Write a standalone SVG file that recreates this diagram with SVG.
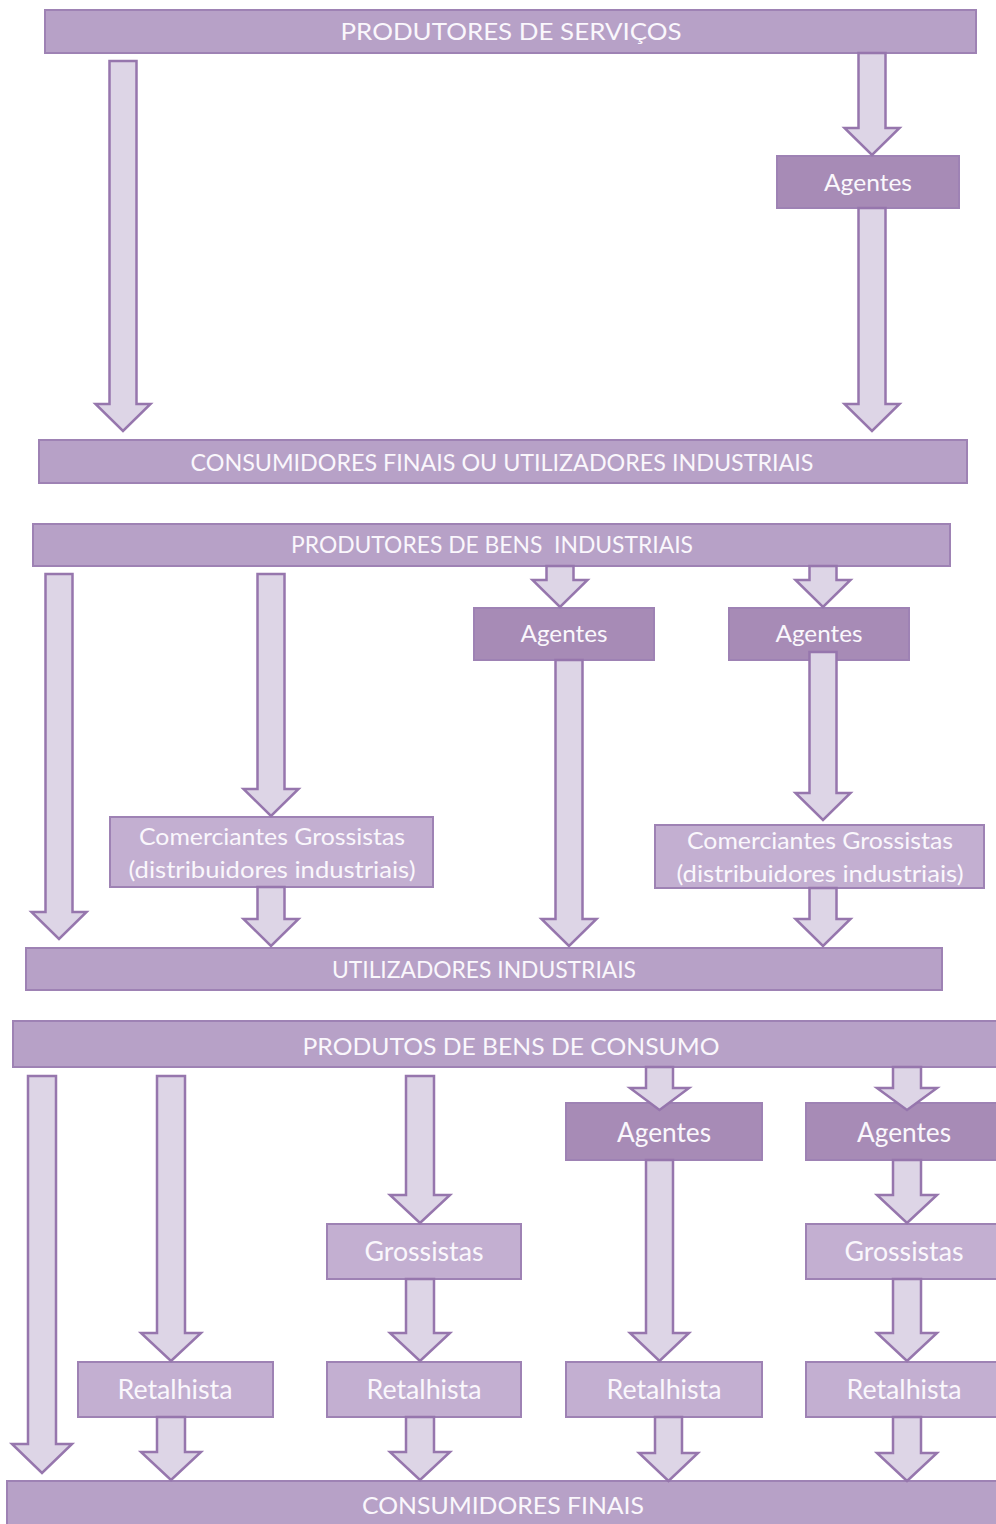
<svg xmlns="http://www.w3.org/2000/svg" width="996" height="1524" viewBox="0 0 996 1524">
  <style>
    .bar { fill: #b7a1c7; stroke: #9e82b4; stroke-width: 2; }
    .agent { fill: #a78bb6; stroke: #9e82b4; stroke-width: 2; }
    .mid { fill: #c3afd1; stroke: #9e82b4; stroke-width: 2; }
    .arrow { fill: #ddd5e6; stroke: #9676ad; stroke-width: 2.5; stroke-linejoin: miter; }
    text { font-family: Lato, "Open Sans", "Liberation Sans", sans-serif; fill: #faf7fc; text-anchor: middle; }
    .big { font-size: 24px; }
    .lbl { font-size: 24px; }
    .lbl3 { font-size: 26px; }
  </style>

  <!-- section 1: service producers -->
  <g id="prod-servicos">
    <rect class="bar" x="45" y="10" width="931" height="43"/>
    <text class="big" x="511" y="40" textLength="341" lengthAdjust="spacingAndGlyphs">PRODUTORES DE SERVIÇOS</text>
  </g>
  <g id="agentes-1">
    <rect class="agent" x="777" y="156" width="182" height="52"/>
    <text class="lbl" x="868" y="191" textLength="88" lengthAdjust="spacingAndGlyphs">Agentes</text>
  </g>
  <g id="consumidores-utilizadores">
    <rect class="bar" x="39" y="440" width="928" height="43"/>
    <text class="big" x="502" y="471" textLength="623" lengthAdjust="spacingAndGlyphs">CONSUMIDORES FINAIS OU UTILIZADORES INDUSTRIAIS</text>
  </g>

  <!-- section 2: industrial goods -->
  <g id="prod-bens-industriais">
    <rect class="bar" x="33" y="524" width="917" height="42"/>
    <text class="big" x="492" y="553" textLength="402" lengthAdjust="spacingAndGlyphs" xml:space="preserve">PRODUTORES DE BENS  INDUSTRIAIS</text>
  </g>
  <g id="agentes-2a">
    <rect class="agent" x="474" y="608" width="180" height="52"/>
    <text class="lbl" x="564" y="642" textLength="87" lengthAdjust="spacingAndGlyphs">Agentes</text>
  </g>
  <g id="agentes-2b">
    <rect class="agent" x="729" y="608" width="180" height="52"/>
    <text class="lbl" x="819" y="642" textLength="87" lengthAdjust="spacingAndGlyphs">Agentes</text>
  </g>
  <g id="comerciantes-1">
    <rect class="mid" x="110" y="817" width="323" height="70"/>
    <text class="lbl" x="272" y="845" textLength="266" lengthAdjust="spacingAndGlyphs">Comerciantes Grossistas</text>
    <text class="lbl" x="272" y="878" textLength="287" lengthAdjust="spacingAndGlyphs">(distribuidores industriais)</text>
  </g>
  <g id="comerciantes-2">
    <rect class="mid" x="655" y="825" width="329" height="63"/>
    <text class="lbl" x="820" y="849" textLength="266" lengthAdjust="spacingAndGlyphs">Comerciantes Grossistas</text>
    <text class="lbl" x="820" y="882" textLength="287" lengthAdjust="spacingAndGlyphs">(distribuidores industriais)</text>
  </g>
  <g id="utilizadores-industriais">
    <rect class="bar" x="26" y="948" width="916" height="42"/>
    <text class="big" x="484" y="978" textLength="304" lengthAdjust="spacingAndGlyphs">UTILIZADORES INDUSTRIAIS</text>
  </g>

  <!-- section 3: consumer goods -->
  <g id="prod-bens-consumo">
    <rect class="bar" x="13" y="1021" width="984" height="46"/>
    <text class="big" x="511" y="1055" textLength="417" lengthAdjust="spacingAndGlyphs">PRODUTOS DE BENS DE CONSUMO</text>
  </g>
  <g id="agentes-3a">
    <rect class="agent" x="566" y="1103" width="196" height="57"/>
    <text class="lbl3" x="664" y="1142" textLength="94" lengthAdjust="spacingAndGlyphs">Agentes</text>
  </g>
  <g id="agentes-3b">
    <rect class="agent" x="806" y="1103" width="192" height="57"/>
    <text class="lbl3" x="904" y="1142" textLength="94" lengthAdjust="spacingAndGlyphs">Agentes</text>
  </g>
  <g id="grossistas-c">
    <rect class="mid" x="327" y="1224" width="194" height="55"/>
    <text class="lbl3" x="424" y="1261" textLength="119" lengthAdjust="spacingAndGlyphs">Grossistas</text>
  </g>
  <g id="grossistas-e">
    <rect class="mid" x="806" y="1224" width="192" height="55"/>
    <text class="lbl3" x="904" y="1261" textLength="119" lengthAdjust="spacingAndGlyphs">Grossistas</text>
  </g>
  <g id="retalhista-b">
    <rect class="mid" x="78" y="1362" width="195" height="55"/>
    <text class="lbl3" x="175" y="1399" textLength="115" lengthAdjust="spacingAndGlyphs">Retalhista</text>
  </g>
  <g id="retalhista-c">
    <rect class="mid" x="327" y="1362" width="194" height="55"/>
    <text class="lbl3" x="424" y="1399" textLength="115" lengthAdjust="spacingAndGlyphs">Retalhista</text>
  </g>
  <g id="retalhista-d">
    <rect class="mid" x="566" y="1362" width="196" height="55"/>
    <text class="lbl3" x="664" y="1399" textLength="115" lengthAdjust="spacingAndGlyphs">Retalhista</text>
  </g>
  <g id="retalhista-e">
    <rect class="mid" x="806" y="1362" width="192" height="55"/>
    <text class="lbl3" x="904" y="1399" textLength="115" lengthAdjust="spacingAndGlyphs">Retalhista</text>
  </g>
  <g id="consumidores-finais">
    <rect class="bar" x="7" y="1481" width="991" height="45"/>
    <text class="big" x="503" y="1514" textLength="282" lengthAdjust="spacingAndGlyphs">CONSUMIDORES FINAIS</text>
  </g>

  <!-- block arrows: shaft 27 wide, head 55 wide, head 27 long (section 3 slightly larger) -->
  <g id="connectors">
    <!-- section 1 -->
    <path class="arrow" d="M109.5 61 H136.5 V404 H150.5 L123 431 L95.5 404 H109.5 Z"/>
    <path class="arrow" d="M858.5 53 H885.5 V128 H899.5 L872 155 L844.5 128 H858.5 Z"/>
    <path class="arrow" d="M858.5 208 H885.5 V404 H899.5 L872 431 L844.5 404 H858.5 Z"/>
    <!-- section 2 -->
    <path class="arrow" d="M45.5 574 H72.5 V912 H86.5 L59 939 L31.5 912 H45.5 Z"/>
    <path class="arrow" d="M257.5 574 H284.5 V789 H298.5 L271 816 L243.5 789 H257.5 Z"/>
    <path class="arrow" d="M257.5 887 H284.5 V919 H298.5 L271 946 L243.5 919 H257.5 Z"/>
    <path class="arrow" d="M546.5 566 H573.5 V580 H587.5 L560 607 L532.5 580 H546.5 Z"/>
    <path class="arrow" d="M555.5 660 H582.5 V919 H596.5 L569 946 L541.5 919 H555.5 Z"/>
    <path class="arrow" d="M809.5 566 H836.5 V580 H850.5 L823 607 L795.5 580 H809.5 Z"/>
    <path class="arrow" d="M809.5 652 H836.5 V793 H850.5 L823 820 L795.5 793 H809.5 Z"/>
    <path class="arrow" d="M809.5 888 H836.5 V919 H850.5 L823 946 L795.5 919 H809.5 Z"/>
    <!-- section 3 -->
    <path class="arrow" d="M28 1076 H56 V1444 H72 L42 1473 L12 1444 H28 Z"/>
    <path class="arrow" d="M157 1076 H185 V1333 H201 L171 1361 L141 1333 H157 Z"/>
    <path class="arrow" d="M157 1417 H185 V1452 H201 L171 1480 L141 1452 H157 Z"/>
    <path class="arrow" d="M406 1076 H434 V1195 H450 L420 1223 L390 1195 H406 Z"/>
    <path class="arrow" d="M406 1279 H434 V1333 H450 L420 1361 L390 1333 H406 Z"/>
    <path class="arrow" d="M406 1417 H434 V1452 H450 L420 1480 L390 1452 H406 Z"/>
    <path class="arrow" d="M646 1067 H673 V1088 H689 L659.5 1110 L630 1088 H646 Z"/>
    <path class="arrow" d="M646 1160 H673 V1333 H689 L659.5 1361 L630 1333 H646 Z"/>
    <path class="arrow" d="M655 1417 H682 V1453 H698 L668.5 1481 L639 1453 H655 Z"/>
    <path class="arrow" d="M893 1067 H921 V1088 H937 L907 1110 L877 1088 H893 Z"/>
    <path class="arrow" d="M893 1160 H921 V1195 H937 L907 1223 L877 1195 H893 Z"/>
    <path class="arrow" d="M893 1279 H921 V1333 H937 L907 1361 L877 1333 H893 Z"/>
    <path class="arrow" d="M893 1417 H921 V1453 H937 L907 1481 L877 1453 H893 Z"/>
  </g>
</svg>
